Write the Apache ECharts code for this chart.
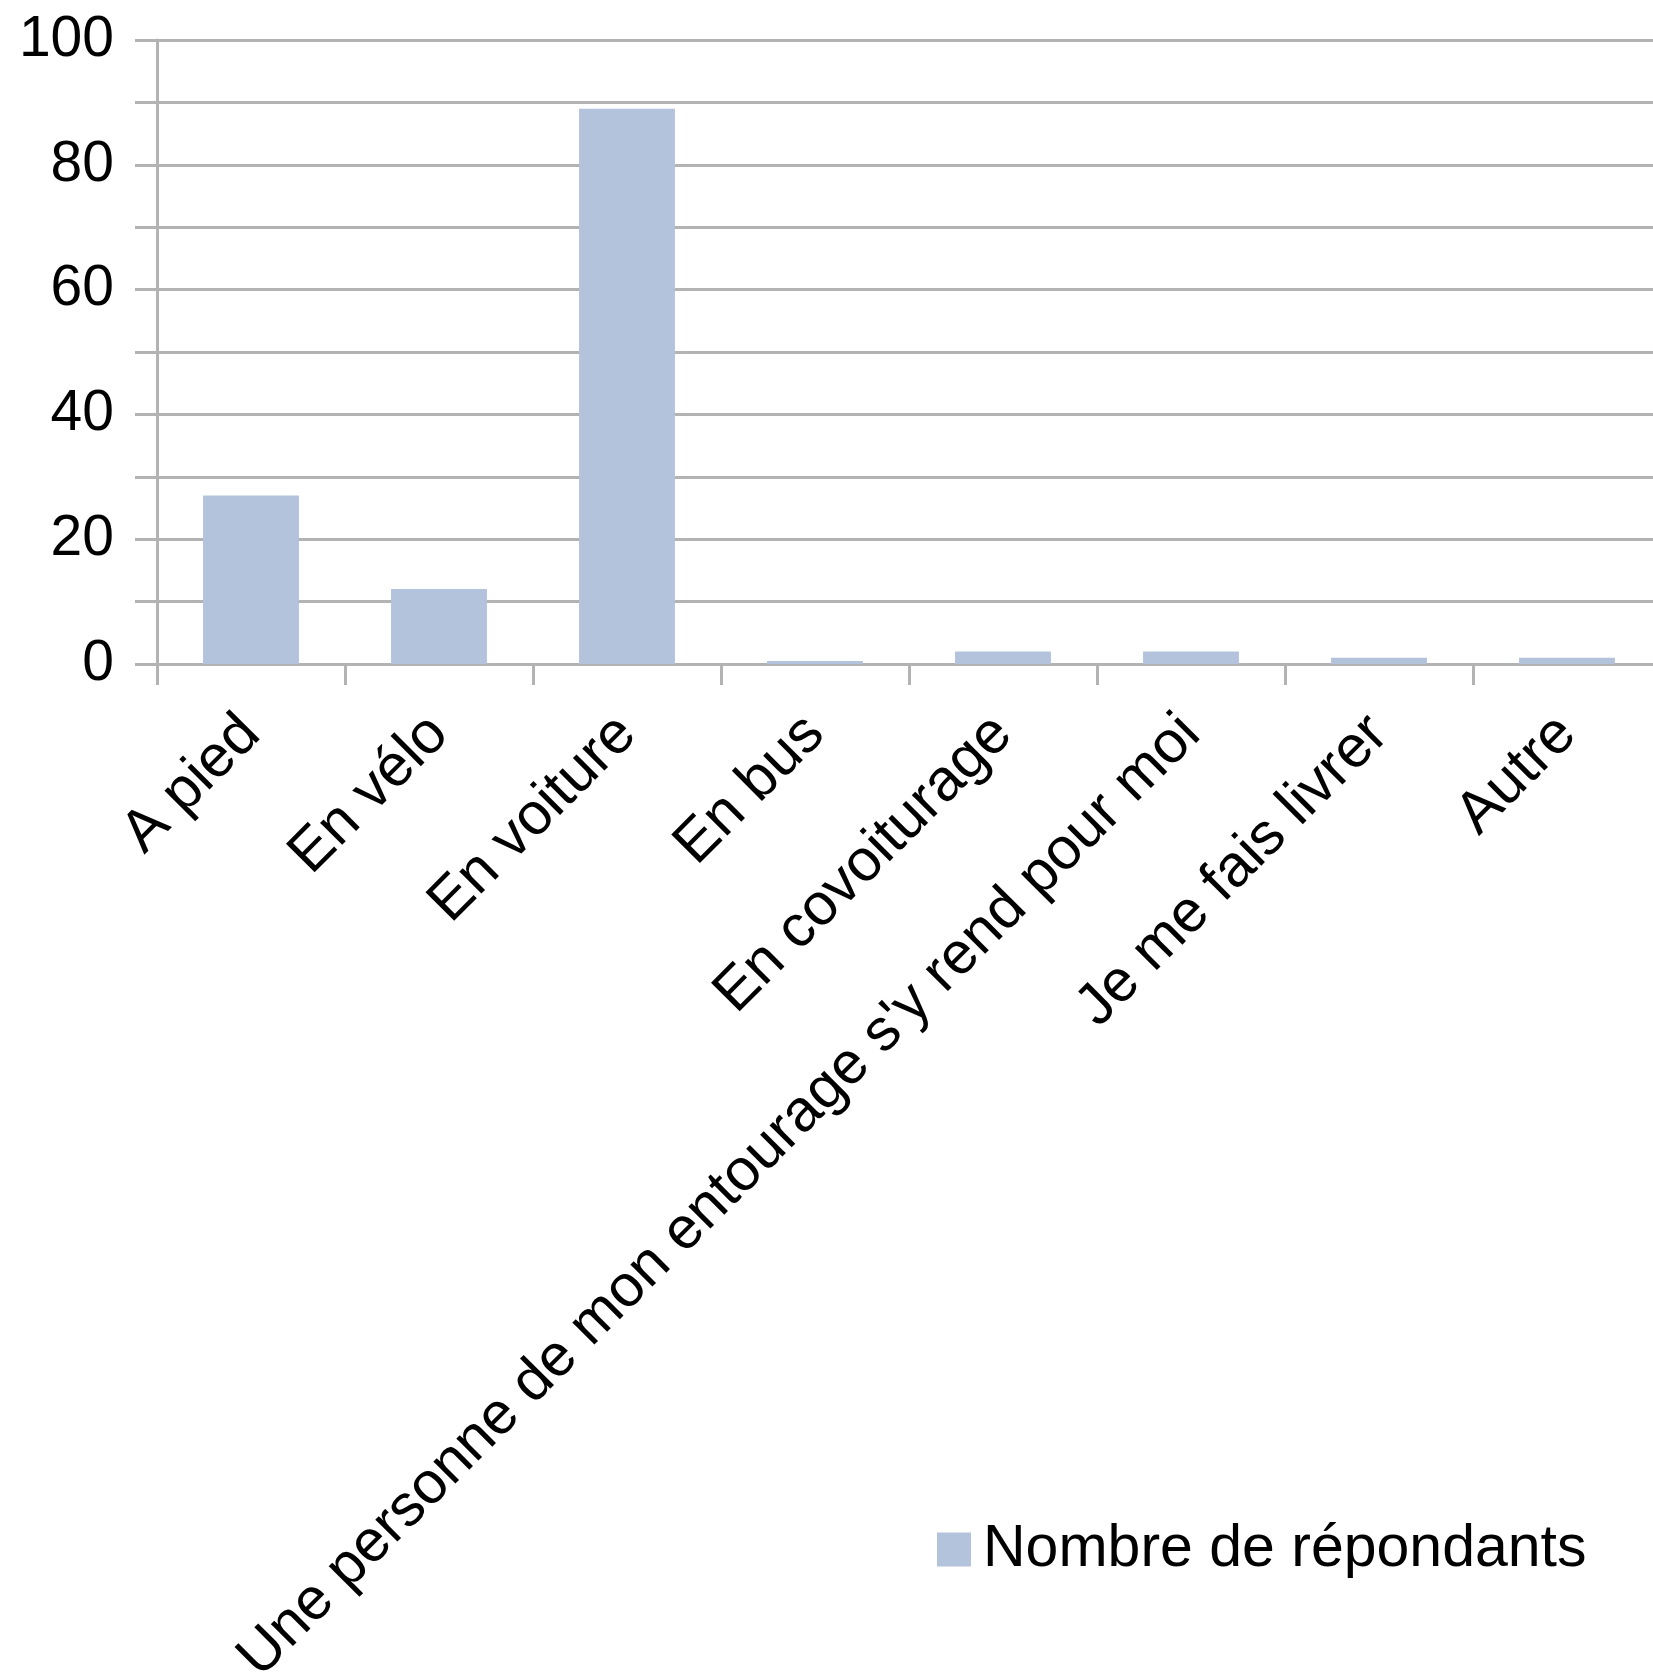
<!DOCTYPE html>
<html>
<head>
<meta charset="utf-8">
<script src="https://cdn.jsdelivr.net/npm/echarts@6/dist/echarts.min.js"></script>
<style>
html,body{margin:0;padding:0;background:#fff;}
#chart{width:1653px;height:1673px;}
</style>
</head>
<body>
<div id="chart"></div>
<script>
const categories = ["A pied", "En vélo", "En voiture", "En bus", "En covoiturage", "Une personne de mon entourage s'y rend pour moi", "Je me fais livrer", "Autre"];
const values = [27, 12, 89, 0, 2, 2, 1, 1];
const seriesName = "Nombre de répondants";
const yMin = 0, yMax = 100, yStep = 10, yLabelStep = 20;

const FONT = "Liberation Sans";
const FS = 57;
const FSX = 59;
const GRAY = "#b3b3b3";
const BAR = "#b3c3dc";

const chart = echarts.init(document.getElementById('chart'));
chart.setOption({
  animation: false,
  backgroundColor: '#ffffff',
  textStyle: { fontFamily: FONT },
  grid: { left: 157, top: 40, right: -8, height: 624, containLabel: false, outerBoundsMode: 'none' },
  legend: {
    data: [seriesName],
    left: 932, top: 1515,
    itemWidth: 34, itemHeight: 34, itemGap: 10,
    icon: 'rect',
    textStyle: { fontFamily: FONT, fontSize: FSX, color: '#000', padding: [0,0,0,7] }
  },
  xAxis: {
    type: 'category',
    data: categories,
    axisLine: { show: true, lineStyle: { color: GRAY, width: 3 } },
    axisTick: { show: true, length: 21, lineStyle: { color: GRAY, width: 3 } },
    axisLabel: { interval: 0, rotate: 45, margin: 61, fontFamily: FONT, fontSize: FSX, color: '#000' },
    splitLine: { show: false }
  },
  yAxis: {
    type: 'value',
    min: yMin, max: yMax, interval: yStep,
    axisLine: { show: true, lineStyle: { color: GRAY, width: 3 } },
    axisTick: { show: true, length: 22, lineStyle: { color: GRAY, width: 3 } },
    axisLabel: {
      margin: 43, fontFamily: FONT, fontSize: FS, color: '#000',
      formatter: v => (v % yLabelStep === 0 ? String(v) : '')
    },
    splitLine: { show: true, lineStyle: { color: GRAY, width: 3 } }
  },
  series: [{
    name: seriesName,
    type: 'bar',
    data: values,
    barCategoryGap: '49%',
    barMinHeight: 3,
    itemStyle: { color: BAR }
  }]
});
</script>
</body>
</html>
